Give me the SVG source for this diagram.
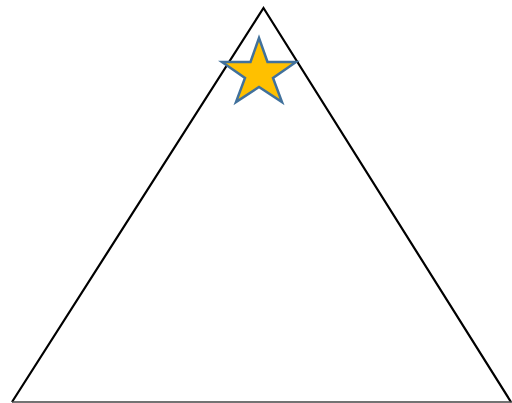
<svg xmlns="http://www.w3.org/2000/svg" width="512" height="403" viewBox="0 0 512 403">
<style>
.tri{fill:none;stroke:#000;stroke-width:2.2;stroke-linejoin:miter}
.star{fill:#FFC000;stroke:#41719C;stroke-width:2.5;stroke-linejoin:miter}
</style>
<rect width="512" height="403" fill="#fff"/>
<g id="triangle">
<polyline class="tri" points="12,402 263.5,8 511,402"/>
<line x1="12" y1="402" x2="512" y2="402" stroke="#444" stroke-width="1.5"/>
</g>
<g id="star">
<polygon class="star" points="259,38 267.5,62 296,62 273,78 282,102 259,87 236,102 245,78 222,62 250.5,62"/>
</g>
</svg>
